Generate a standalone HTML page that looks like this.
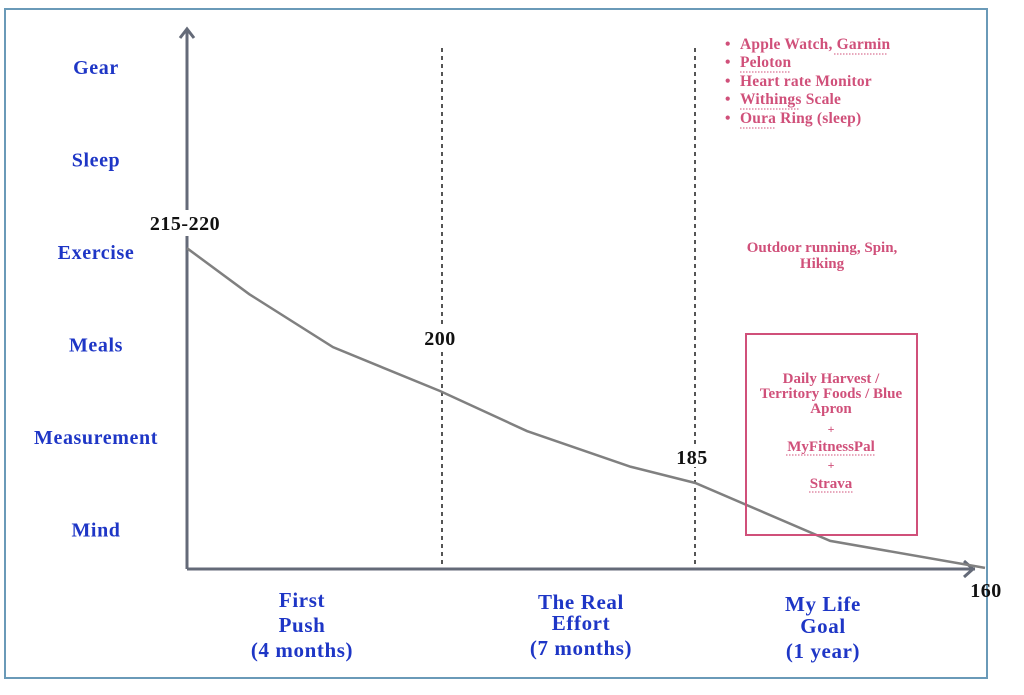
<!DOCTYPE html>
<html><head><meta charset="utf-8"><style>
body{margin:0;background:#fff;}
svg text{font-family:"Liberation Serif",serif;font-weight:bold;}
</style></head><body>
<svg width="1024" height="690" viewBox="0 0 1024 690">
<rect x="5" y="9" width="982" height="669" fill="#fff" stroke="#6a9ab8" stroke-width="2"/>
<g id="ylabels" fill="#1e36c6" font-size="20" letter-spacing="0.6" text-anchor="middle"></g>
<line x1="442" y1="48" x2="442" y2="569" stroke="#555" stroke-width="2" stroke-dasharray="4,4"/>
<line x1="695" y1="48" x2="695" y2="569" stroke="#555" stroke-width="2" stroke-dasharray="4,4"/>
<g stroke="#646a78" stroke-width="3" fill="none">
<line x1="187" y1="29" x2="187" y2="569"/>
<polyline points="180,38 187,29 194,38"/>
<line x1="187" y1="569" x2="975" y2="569"/>
<polyline points="964,561 973,569 964,577"/>
</g>
<rect x="145" y="210" width="80" height="26" fill="#fff"/>
<rect x="420" y="326" width="40" height="22" fill="#fff"/>
<rect x="674" y="445" width="40" height="22" fill="#fff"/>
<polyline id="trend" fill="none" stroke="#808080" stroke-width="2.5"/>
<g font-size="20" letter-spacing="0.5" text-anchor="middle" fill="#111">
<text x="185" y="230">215-220</text>
<text x="440" y="345">200</text>
<text x="692" y="464">185</text>
<text x="986" y="597">160</text>
</g>
<g fill="#1e36c6" font-size="21" letter-spacing="0.6" text-anchor="middle">
<text x="302" y="607">First</text><text x="302" y="632">Push</text><text x="302" y="657">(4 months)</text>
<text x="581" y="609">The Real</text><text x="581" y="630">Effort</text><text x="581" y="655">(7 months)</text>
<text x="823" y="611">My Life</text><text x="823" y="633">Goal</text><text x="823" y="658">(1 year)</text>
</g>
<g fill="#d0507a" font-size="15.5" letter-spacing="0.2">
<text x="725" y="49">•</text><text x="740" y="49">Apple Watch, Garmin</text>
<text x="725" y="67">•</text><text x="740" y="67">Peloton</text>
<text x="725" y="86">•</text><text x="740" y="86">Heart rate Monitor</text>
<text x="725" y="104">•</text><text x="740" y="104">Withings Scale</text>
<text x="725" y="123">•</text><text x="740" y="123">Oura Ring (sleep)</text>
</g>
<g stroke="#d0507a" stroke-width="1" stroke-dasharray="1.5,1.5">
<line x1="834" y1="54" x2="887" y2="54"/><line x1="740" y1="72" x2="790" y2="72"/>
<line x1="740" y1="109" x2="800" y2="109"/><line x1="740" y1="128" x2="775" y2="128"/>
<line x1="786" y1="455" x2="876" y2="455"/><line x1="809" y1="492" x2="853" y2="492"/>
</g>
<g fill="#d0507a" font-size="15" text-anchor="middle">
<text x="822" y="252">Outdoor running, Spin,</text><text x="822" y="268">Hiking</text>
</g>
<rect x="746" y="334" width="171" height="201" fill="none" stroke="#d0507a" stroke-width="2"/>
<g fill="#d0507a" font-size="15" text-anchor="middle">
<text x="831" y="383">Daily Harvest /</text><text x="831" y="398">Territory Foods / Blue</text><text x="831" y="413">Apron</text>
<text x="831" y="433" font-size="12">+</text><text x="831" y="451">MyFitnessPal</text>
<text x="831" y="469" font-size="12">+</text><text x="831" y="488">Strava</text>
</g>
</svg>
<script>
const categories=["Gear","Sleep","Exercise","Meals","Measurement","Mind"];
const progress=[0,7.8,18.3,31.7,42.6,55.6,63.7,80.6,100];
const level=[59.3,50.8,41.0,32.9,25.5,18.9,15.9,5.2,0.2];
const xs=v=>187+v*7.98, ys=v=>569-v*5.41;
const yl=document.getElementById('ylabels');
categories.forEach((c,i)=>{const t=document.createElementNS('http://www.w3.org/2000/svg','text');
t.setAttribute('x',96);t.setAttribute('y',74+i*92.5);t.textContent=c;


yl.appendChild(t);});
document.getElementById('trend').setAttribute('points',progress.map((p,i)=>xs(p)+','+ys(level[i])).join(' '));
</script>
</body></html>
